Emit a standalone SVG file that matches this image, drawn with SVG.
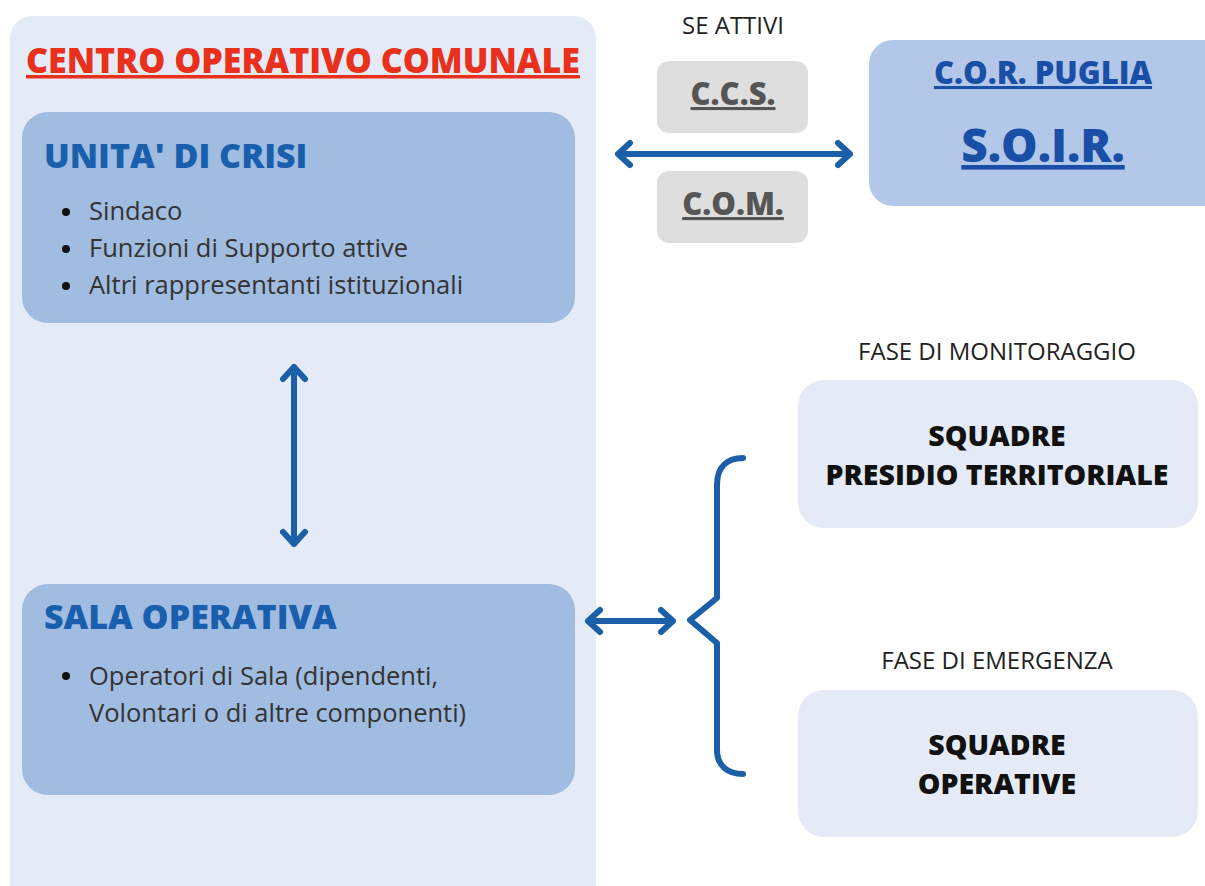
<svg xmlns="http://www.w3.org/2000/svg" width="1205" height="886" viewBox="0 0 1205 886">
<defs>
<style>
.b{font-family:"Open Sans","Liberation Sans",sans-serif;font-weight:800}
.r{font-family:"Open Sans","Liberation Sans",sans-serif;font-weight:400}
.ln{fill:none;stroke:#1a5fa8;stroke-width:6;stroke-linecap:round;stroke-linejoin:round}
</style>
</defs>
<rect width="1205" height="886" fill="#ffffff"/>
<g id="coc">
<rect x="10" y="16" width="586" height="900" rx="22" fill="#e4ebf6"/>
<text class="b" x="26" y="73" font-size="35" fill="#e8301c" text-decoration="underline" textLength="554" lengthAdjust="spacingAndGlyphs">CENTRO OPERATIVO COMUNALE</text>
</g>
<g id="unita">
<rect x="22" y="112" width="553" height="211" rx="26" fill="#a0bce0"/>
<text class="b" x="44" y="168" font-size="34" fill="#1a5fad">UNITA' DI CRISI</text>
<g class="r" font-size="25.5" fill="#333">
<circle cx="66" cy="212" r="4" fill="#111"/>
<text x="89" y="220">Sindaco</text>
<circle cx="66" cy="249" r="4" fill="#111"/>
<text x="89" y="257">Funzioni di Supporto attive</text>
<circle cx="66" cy="286" r="4" fill="#111"/>
<text x="89" y="294">Altri rappresentanti istituzionali</text>
</g>
</g>
<g id="sala">
<rect x="22" y="584" width="553" height="211" rx="26" fill="#a0bce0"/>
<text class="b" x="44" y="629" font-size="34" fill="#1a5fad">SALA OPERATIVA</text>
<g class="r" font-size="25.5" fill="#333">
<circle cx="66" cy="676" r="4" fill="#111"/>
<text x="89" y="685">Operatori di Sala (dipendenti,</text>
<text x="89" y="722">Volontari o di altre componenti)</text>
</g>
</g>
<g id="seattivi">
<text class="r" x="733" y="34" font-size="24" fill="#222" text-anchor="middle">SE ATTIVI</text>
</g>
<g id="ccs">
<rect x="657" y="61" width="151" height="72" rx="12" fill="#dedede"/>
<text class="b" x="733" y="105" font-size="31" fill="#555" text-anchor="middle" text-decoration="underline">C.C.S.</text>
</g>
<g id="com">
<rect x="657" y="171" width="151" height="72" rx="12" fill="#dedede"/>
<text class="b" x="733" y="215" font-size="31" fill="#555" text-anchor="middle" text-decoration="underline">C.O.M.</text>
</g>
<g id="cor">
<rect x="869" y="40" width="360" height="166" rx="24" fill="#b3c8e8"/>
<text class="b" x="1043" y="84" font-size="31" fill="#1a4fa8" text-anchor="middle" text-decoration="underline">C.O.R. PUGLIA</text>
<text class="b" x="1043" y="162" font-size="46" fill="#1a4fa8" text-anchor="middle" text-decoration="underline">S.O.I.R.</text>
</g>
<g id="presidio">
<text class="r" x="997" y="360" font-size="24" fill="#222" text-anchor="middle">FASE DI MONITORAGGIO</text>
<rect x="798" y="380" width="400" height="148" rx="26" fill="#e4ebf6"/>
<text class="b" x="997" y="446" font-size="28.5" fill="#111" text-anchor="middle">SQUADRE</text>
<text class="b" x="997" y="485" font-size="28.5" fill="#111" text-anchor="middle">PRESIDIO TERRITORIALE</text>
</g>
<g id="operative">
<text class="r" x="997" y="669" font-size="24" fill="#222" text-anchor="middle">FASE DI EMERGENZA</text>
<rect x="798" y="690" width="400" height="147" rx="26" fill="#e4ebf6"/>
<text class="b" x="997" y="755" font-size="28.5" fill="#111" text-anchor="middle">SQUADRE</text>
<text class="b" x="997" y="794" font-size="28.5" fill="#111" text-anchor="middle">OPERATIVE</text>
</g>
<g id="connectors">
<path class="ln" d="M618 154H850M630 143L618 154L630 165M838 143L850 154L838 165"/>
<path class="ln" d="M294 367V544M283 379L294 367L305 379M283 532L294 544L305 532"/>
<path class="ln" d="M588 621H673M600 610L588 621L600 632M661 610L673 621L661 632"/>
<path class="ln" d="M743 458C728 458 717 466 717 485V598L690 620L717 643V750C717 766 728 774 743 774"/>
</g>
</svg>
